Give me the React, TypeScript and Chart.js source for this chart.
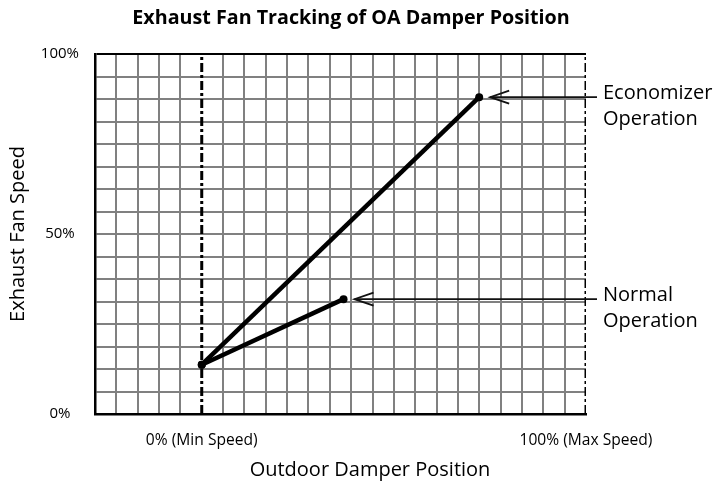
import React, { useEffect, useRef } from "react";
import { Chart, registerables } from "chart.js";

Chart.register(...registerables);

// ---- data ----
const ECON_X = [0, 72.2];
const ECON_Y = [13.7, 88];
const NORMAL_X = [0, 36.9];
const NORMAL_Y = [13.7, 31.9];
const MIN_SPEED_X = [0, 0];
const MAX_SPEED_X = [100, 100];
const LIMIT_Y = [0, 100];

const Y_LABEL_VALUES = [0, 50, 100];
const Y_LABELS = ["0%", "50%", "100%"];
const X_LABEL_VALUES = [0, 100];
const X_LABELS = ["0% (Min Speed)", "100% (Max Speed)"];

const ECON_LABEL = ["Economizer", "Operation"];
const NORMAL_LABEL = ["Normal", "Operation"];

const TITLE = "Exhaust Fan Tracking of OA Damper Position";
const X_TITLE = "Outdoor Damper Position";
const Y_TITLE = "Exhaust Fan Speed";

// grid: 5 cells left of min speed, 18 cells from min to max; 16 rows
const X_CELLS_BEFORE = 5;
const X_CELLS = 18;
const Y_ROWS = 16;

const FONT = "'Open Sans', 'DejaVu Sans', sans-serif";

const pts = (xs: number[], ys: number[]) => xs.map((x, i) => ({ x, y: ys[i] }));
const near = (a: number, b: number) => Math.abs(a - b) < 1e-6;

const annotationPlugin = {
  id: "annotations",
  afterDatasetsDraw(chart: any) {
    const { ctx, chartArea, scales } = chart;
    const sx = scales.x;
    const sy = scales.y;
    const items = [
      { x: ECON_X[ECON_X.length - 1], y: ECON_Y[ECON_Y.length - 1], lines: ECON_LABEL },
      { x: NORMAL_X[NORMAL_X.length - 1], y: NORMAL_Y[NORMAL_Y.length - 1], lines: NORMAL_LABEL },
    ];
    ctx.save();
    for (const it of items) {
      const px = sx.getPixelForValue(it.x);
      const py = sy.getPixelForValue(it.y);
      const tip = px + 11;
      const end = chartArea.right + 11;
      ctx.strokeStyle = "#111";
      ctx.lineWidth = 1.8;
      ctx.lineCap = "butt";
      ctx.beginPath();
      ctx.moveTo(end, py);
      ctx.lineTo(tip, py);
      ctx.stroke();
      ctx.beginPath();
      ctx.moveTo(tip + 19, py - 6.5);
      ctx.lineTo(tip, py);
      ctx.lineTo(tip + 19, py + 6.5);
      ctx.stroke();
      ctx.fillStyle = "#000";
      ctx.font = `20px ${FONT}`;
      ctx.textAlign = "left";
      ctx.textBaseline = "alphabetic";
      ctx.fillText(it.lines[0], chartArea.right + 17, py + 2);
      ctx.fillText(it.lines[1], chartArea.right + 17, py + 28);
    }
    ctx.restore();
  },
  afterDraw(chart: any) {
    const { ctx, chartArea } = chart;
    const cx = (chartArea.left + chartArea.right) / 2;
    ctx.save();
    ctx.fillStyle = "#000";
    ctx.textAlign = "center";
    ctx.textBaseline = "alphabetic";
    ctx.font = `bold 19.7px ${FONT}`;
    ctx.fillText(TITLE, cx + 10.5, 24);
    ctx.font = `20px ${FONT}`;
    ctx.fillText(X_TITLE, cx + 29.5, 476);
    ctx.restore();
  },
};

export default function App() {
  const ref = useRef<HTMLCanvasElement | null>(null);

  useEffect(() => {
    if (!ref.current) return;
    const lineStyle = {
      showLine: true,
      borderColor: "#000",
      backgroundColor: "#000",
      borderWidth: 4.5,
      pointRadius: 4,
      pointBackgroundColor: "#000",
      pointBorderWidth: 0,
      fill: false,
    };
    const limitStyle = {
      showLine: true,
      borderColor: "#000",
      borderWidth: 3,
      borderDash: [9, 3, 3, 3],
      pointRadius: 0,
      fill: false,
    };
    const chart = new Chart(ref.current, {
      type: "scatter",
      data: {
        datasets: [
          { label: "Economizer Operation", data: pts(ECON_X, ECON_Y), ...lineStyle },
          { label: "Normal Operation", data: pts(NORMAL_X, NORMAL_Y), ...lineStyle },
          { label: "Min Speed", data: pts(MIN_SPEED_X, LIMIT_Y), ...limitStyle },
          { label: "Max Speed", data: pts(MAX_SPEED_X, LIMIT_Y), ...limitStyle },
        ] as any,
      },
      options: {
        responsive: false,
        animation: false,
        devicePixelRatio: 1,
        layout: { padding: { left: 0, right: 133, top: 54, bottom: 0 } },
        plugins: {
          legend: { display: false },
          tooltip: { enabled: false },
          title: { display: false },
        },
        scales: {
          x: {
            type: "linear",
            min: (-X_CELLS_BEFORE * 100) / X_CELLS,
            max: 100,
            afterBuildTicks: (scale: any) => {
              const t = [];
              for (let k = -X_CELLS_BEFORE; k <= X_CELLS; k++) t.push({ value: (k * 100) / X_CELLS });
              scale.ticks = t;
            },
            afterFit: (scale: any) => {
              scale.height = 72;
            },
            grid: {
              drawTicks: false,
              lineWidth: 2,
              color: (c: any) =>
                c.tick && (near(c.tick.value, 0) || near(c.tick.value, 100)) ? "rgba(0,0,0,0)" : "#808080",
            },
            border: { display: true, color: "#000", width: 2.5 },
            ticks: {
              autoSkip: false,
              maxRotation: 0,
              padding: 17,
              color: "#000",
              font: { family: FONT, size: 15.6 },
              callback: (v: any) => {
                const i = X_LABEL_VALUES.findIndex((x) => near(x, Number(v)));
                return i >= 0 ? X_LABELS[i] : "";
              },
            },
            title: { display: false, text: X_TITLE },
          },
          y: {
            type: "linear",
            min: 0,
            max: 100,
            afterBuildTicks: (scale: any) => {
              const t = [];
              for (let k = 0; k <= Y_ROWS; k++) t.push({ value: (k * 100) / Y_ROWS });
              scale.ticks = t;
            },
            afterFit: (scale: any) => {
              scale.width = 95;
            },
            grid: {
              drawTicks: false,
              lineWidth: 2,
              color: (c: any) =>
                c.tick && (near(c.tick.value, 100) || near(c.tick.value, 0)) ? "#000" : "#808080",
            },
            border: { display: true, color: "#000", width: 2.5 },
            ticks: {
              autoSkip: false,
              crossAlign: "center",
              padding: 16,
              color: "#000",
              font: { family: FONT, size: 15 },
              callback: (v: any) => {
                const i = Y_LABEL_VALUES.findIndex((y) => near(y, Number(v)));
                return i >= 0 ? Y_LABELS[i] : "";
              },
            },
            title: {
              display: true,
              text: Y_TITLE,
              color: "#000",
              font: { family: FONT, size: 20 },
              padding: { top: 6, bottom: 0 },
            },
          },
        },
      } as any,
      plugins: [annotationPlugin],
    });
    return () => chart.destroy();
  }, []);

  return (
    <div style={{ position: "fixed", left: 0, top: 0, width: 719, height: 486, background: "#fff" }}>
      <canvas ref={ref} width={719} height={486} style={{ width: 719, height: 486, display: "block" }} />
    </div>
  );
}
